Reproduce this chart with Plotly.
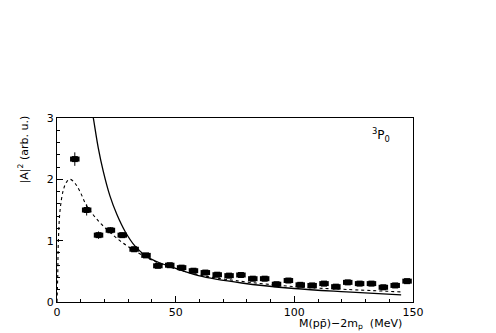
import plotly.graph_objects as go

# measured points (bin centres in MeV, |A|^2 in arb. units)
mass = [7.5, 12.5, 17.5, 22.5, 27.5, 32.5, 37.5, 42.5, 47.5, 52.5, 57.5, 62.5,
        67.5, 72.5, 77.5, 82.5, 87.5, 92.5, 97.5, 102.5, 107.5, 112.5, 117.5,
        122.5, 127.5, 132.5, 137.5, 142.5, 147.5]
amp2 = [2.33, 1.50, 1.09, 1.17, 1.09, 0.86, 0.76, 0.59, 0.60, 0.56, 0.51, 0.48,
        0.445, 0.43, 0.44, 0.38, 0.38, 0.29, 0.35, 0.28, 0.27, 0.30, 0.25,
        0.32, 0.30, 0.30, 0.24, 0.27, 0.34]
amp2_err = [0.11, 0.09, 0.06, 0.05, 0.04, 0.04, 0.03, 0.03, 0.03, 0.03, 0.03, 0.03,
            0.03, 0.03, 0.03, 0.03, 0.03, 0.03, 0.03, 0.03, 0.03, 0.03, 0.03,
            0.03, 0.03, 0.03, 0.03, 0.03, 0.03]
bin_half = [2.0] * len(mass)

# solid curve
solid_x = [14.8, 15.3, 17.4, 19.5, 22.3, 25.2, 28.7, 32.9, 37.8, 42.0, 47.6, 59.6, 77.8, 100.0, 122.0, 145.0]
solid_y = [3.1, 3.0, 2.51, 2.13, 1.73, 1.43, 1.15, 0.91, 0.74, 0.66, 0.58, 0.43, 0.31, 0.22, 0.165, 0.115]

# dashed curve
dash_x = [0.0, 0.3, 0.55, 1.3, 2.7, 4.1, 5.5, 7.5, 9.7, 12.5, 17.5, 22.5, 27.5, 32.5,
          37.5, 42.5, 47.5, 60.0, 75.0, 100.0, 122.0, 145.0]
dash_y = [0.0, 0.41, 0.96, 1.50, 1.83, 1.96, 2.00, 1.94, 1.80, 1.57, 1.32, 1.13, 0.97, 0.84,
          0.73, 0.64, 0.57, 0.44, 0.35, 0.25, 0.205, 0.165]

fnt = "DejaVu Sans"

fig = go.Figure()

fig.add_trace(go.Scatter(x=solid_x, y=solid_y, mode="lines", line_shape="spline",
                         line=dict(color="black", width=1.3)))
fig.add_trace(go.Scatter(x=dash_x, y=dash_y, mode="lines", line_shape="spline",
                         line=dict(color="black", width=1.1, dash="dot")))
fig.add_trace(go.Scatter(x=mass, y=amp2, mode="markers",
                         marker=dict(symbol="square", size=6, color="black"),
                         error_x=dict(type="data", array=bin_half, thickness=5, width=0, color="black"),
                         error_y=dict(type="data", array=amp2_err, thickness=1, width=0, color="black")))

fig.update_xaxes(range=[0, 150], tickvals=[0, 50, 100, 150], ticks="inside", ticklen=6,
                 minor=dict(dtick=10, ticks="inside", ticklen=3, tickcolor="black"),
                 showline=True, linecolor="black", linewidth=1, mirror=True,
                 showgrid=False, zeroline=False, tickcolor="black",
                 tickfont=dict(family=fnt, size=11, color="black"))
fig.update_yaxes(range=[0, 3], tickvals=[0, 1, 2, 3], ticks="inside", ticklen=6,
                 minor=dict(dtick=0.2, ticks="inside", ticklen=3, tickcolor="black"),
                 showline=True, linecolor="black", linewidth=1, mirror=True,
                 showgrid=False, zeroline=False, tickcolor="black",
                 tickfont=dict(family=fnt, size=11, color="black"))

fig.add_annotation(text="|A|<sup>2</sup> (arb. u.)", xref="paper", yref="paper",
                   x=-0.095, y=0.83, xanchor="center", yanchor="middle", textangle=-90,
                   showarrow=False, font=dict(family=fnt, size=11, color="black"))
fig.add_annotation(text="M(pp\u0304)\u22122m<sub>p</sub>  (MeV)", xref="paper", yref="paper",
                   x=0.975, y=-0.07, xanchor="right", yanchor="top",
                   showarrow=False, font=dict(family=fnt, size=11, color="black"))
fig.add_annotation(text="<sup>3</sup>P<sub>0</sub>", xref="paper", yref="paper",
                   x=0.94, y=0.97, xanchor="right", yanchor="top",
                   showarrow=False, font=dict(family=fnt, size=12, color="black"))

# page body adds an 8px offset, so margins are shifted accordingly
fig.update_layout(width=496, height=333, showlegend=False,
                  margin=dict(l=49, r=91, t=110, b=39),
                  plot_bgcolor="white", paper_bgcolor="white")

fig.write_html("out.html")
